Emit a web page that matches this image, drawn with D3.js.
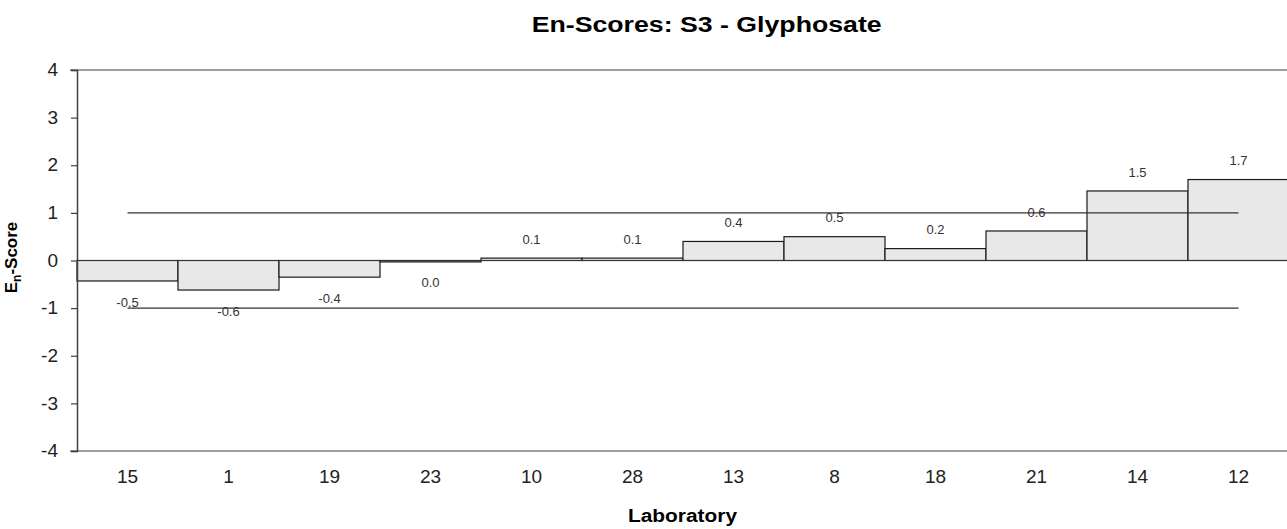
<!DOCTYPE html>
<html>
<head>
<meta charset="utf-8">
<script src="https://cdn.jsdelivr.net/npm/d3@7"></script>
<style>
  body { margin: 0; background: #fff; }
  svg { display: block; font-family: "Liberation Sans", Arial, sans-serif; }
</style>
</head>
<body>
<div id="chart"></div>
<script>
// En-scores per laboratory, sorted as in the report
const labs = ["15", "1", "19", "23", "10", "28", "13", "8", "18", "21", "14", "12"];
const scores = [-0.43, -0.62, -0.35, -0.03, 0.05, 0.05, 0.40, 0.50, 0.25, 0.62, 1.46, 1.70];
const scoreLabels = ["-0.5", "-0.6", "-0.4", "0.0", "0.1", "0.1", "0.4", "0.5", "0.2", "0.6", "1.5", "1.7"];
const limits = [1, -1];
const yTicks = [-4, -3, -2, -1, 0, 1, 2, 3, 4];

const width = 1287, height = 529;
const plot = { left: 77, right: 1289, top: 70, bottom: 451 };

const data = labs.map((lab, i) => ({ lab, score: scores[i], label: scoreLabels[i] }));

const svg = d3.select("#chart").append("svg")
  .attr("width", width)
  .attr("height", height);

const x = d3.scaleBand()
  .domain(labs)
  .range([plot.left, plot.right])
  .padding(0);

const y = d3.scaleLinear()
  .domain([-4, 4])
  .range([plot.bottom, plot.top]);

// frame: top and bottom lines
svg.append("line")
  .attr("x1", plot.left - 7).attr("x2", width)
  .attr("y1", y(4)).attr("y2", y(4))
  .attr("stroke", "#404040").attr("stroke-width", 1.2);
svg.append("line")
  .attr("x1", plot.left - 7).attr("x2", width)
  .attr("y1", y(-4)).attr("y2", y(-4))
  .attr("stroke", "#404040").attr("stroke-width", 1.2);

// bars
svg.append("g")
  .selectAll("rect")
  .data(data)
  .enter().append("rect")
  .attr("x", d => x(d.lab))
  .attr("width", x.bandwidth())
  .attr("y", d => y(Math.max(0, d.score)))
  .attr("height", d => Math.abs(y(d.score) - y(0)))
  .attr("fill", "#e8e8e8")
  .attr("stroke", "#1a1a1a")
  .attr("stroke-width", 1.2);

// zero line
svg.append("line")
  .attr("x1", plot.left).attr("x2", width)
  .attr("y1", y(0)).attr("y2", y(0))
  .attr("stroke", "#333").attr("stroke-width", 1);

// +1 / -1 limit lines from first to last lab centre
const xc = d => x(d) + x.bandwidth() / 2;
svg.append("g")
  .selectAll("line")
  .data(limits)
  .enter().append("line")
  .attr("x1", xc(labs[0]))
  .attr("x2", xc(labs[labs.length - 1]))
  .attr("y1", d => y(d))
  .attr("y2", d => y(d))
  .attr("stroke", "#333")
  .attr("stroke-width", 1.2);

// value labels
svg.append("g")
  .selectAll("text")
  .data(data)
  .enter().append("text")
  .attr("x", d => xc(d.lab))
  .attr("y", d => d.score < 0 ? y(d.score) + 21 : y(d.score) - 19)
  .attr("dy", "0.35em")
  .attr("text-anchor", "middle")
  .attr("font-size", "13px")
  .attr("fill", "#333")
  .text(d => d.label);

// y axis (plain hyphen for negatives, like the source)
const yAxis = d3.axisLeft(y)
  .tickValues(yTicks)
  .tickFormat(d => String(d))
  .tickSize(6)
  .tickPadding(13);

const gy = svg.append("g")
  .attr("transform", `translate(${plot.left},0)`)
  .call(yAxis);
gy.select(".domain").attr("stroke", "#404040").attr("stroke-width", 1.5);
gy.selectAll(".tick line").attr("stroke", "#404040").attr("stroke-width", 1.2);
gy.selectAll(".tick text")
  .attr("font-family", "Liberation Sans, Arial, sans-serif")
  .attr("font-size", "19px")
  .attr("fill", "#222")
  .attr("dy", "0.3em");

// x axis labels (no tick marks)
const xAxis = d3.axisBottom(x).tickSize(0).tickPadding(19);
const gx = svg.append("g")
  .attr("transform", `translate(0,${plot.bottom})`)
  .call(xAxis);
gx.select(".domain").remove();
gx.selectAll(".tick text")
  .attr("font-family", "Liberation Sans, Arial, sans-serif")
  .attr("font-size", "19px")
  .attr("fill", "#222");

// titles
svg.append("text")
  .attr("x", 706.7)
  .attr("y", 31.5)
  .attr("text-anchor", "middle")
  .attr("font-size", "22px")
  .attr("font-weight", "bold")
  .attr("textLength", 350)
  .attr("lengthAdjust", "spacingAndGlyphs")
  .text("En-Scores: S3 - Glyphosate");

svg.append("text")
  .attr("x", 682.5)
  .attr("y", 522)
  .attr("text-anchor", "middle")
  .attr("font-size", "18px")
  .attr("font-weight", "bold")
  .attr("textLength", 109)
  .attr("lengthAdjust", "spacingAndGlyphs")
  .text("Laboratory");

const yt = svg.append("text")
  .attr("transform", "translate(16.5,257.5) rotate(-90)")
  .attr("text-anchor", "middle")
  .attr("font-size", "17px")
  .attr("font-weight", "bold");
yt.append("tspan").text("E");
yt.append("tspan").attr("font-size", "12px").attr("dy", "4").text("n");
yt.append("tspan").attr("dy", "-4").text("-Score");
</script>
</body>
</html>
